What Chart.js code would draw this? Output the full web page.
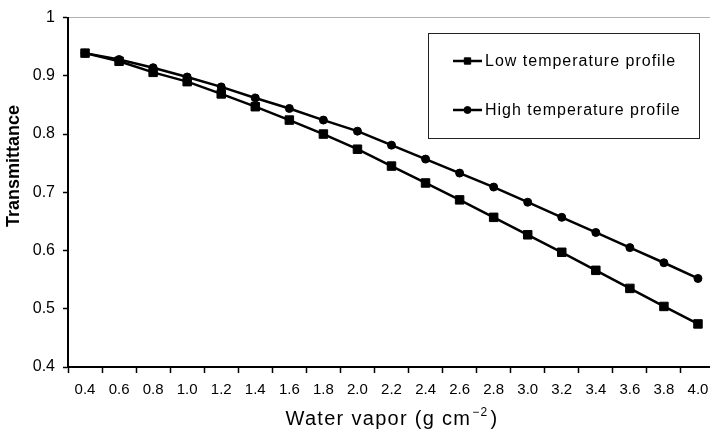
<!DOCTYPE html>
<html>
<head>
<meta charset="utf-8">
<script src="https://cdn.jsdelivr.net/npm/chart.js@4/dist/chart.umd.min.js"></script>
<style>
  html, body { margin: 0; padding: 0; background: #fff; overflow: hidden; }
  canvas { display: block; }
</style>
</head>
<body>
<canvas id="myChart" width="722" height="432"></canvas>
<script>
// water vapor categories (g cm-2), also used as the x tick labels
const vapor = ['0.4', '0.6', '0.8', '1.0', '1.2', '1.4', '1.6', '1.8', '2.0', '2.2',
  '2.4', '2.6', '2.8', '3.0', '3.2', '3.4', '3.6', '3.8', '4.0'];

const lowProfile = [0.939, 0.925, 0.906, 0.890, 0.869, 0.847, 0.824, 0.800, 0.774, 0.745,
  0.716, 0.687, 0.657, 0.627, 0.597, 0.566, 0.535, 0.504, 0.474];

const highProfile = [0.939, 0.928, 0.914, 0.898, 0.881, 0.862, 0.844, 0.824, 0.805, 0.781,
  0.757, 0.733, 0.709, 0.683, 0.657, 0.631, 0.605, 0.579, 0.552];

const yTickValues = [0.4, 0.5, 0.6, 0.7, 0.8, 0.9, 1];

const FONT = 'Arial, "Liberation Sans", Helvetica, sans-serif';

// axis titles, drawn by hand so the superscript can sit properly
const axisTitles = {
  id: 'axisTitles',
  afterDraw(chart) {
    const ctx = chart.ctx;
    const area = chart.chartArea;
    ctx.save();
    ctx.fillStyle = '#000';

    // y title
    ctx.font = 'bold 18px ' + FONT;
    ctx.textAlign = 'center';
    ctx.textBaseline = 'middle';
    ctx.translate(14, 166);
    ctx.rotate(-Math.PI / 2);
    ctx.fillText('Transmittance', 0, 0);
    ctx.setTransform(1, 0, 0, 1, 0, 0);

    // x title with superscript
    ctx.textAlign = 'left';
    ctx.textBaseline = 'alphabetic';
    ctx.letterSpacing = '1.3px';
    const main = 'Water vapor (g cm';
    const sup = '\u22122';
    const tail = ')';
    ctx.font = '20px ' + FONT;
    const wMain = ctx.measureText(main).width;
    const wTail = ctx.measureText(tail).width;
    ctx.font = '12px ' + FONT;
    const wSup = ctx.measureText(sup).width + 2;
    let x = (area.left + area.right) / 2 - (wMain + wSup + wTail) / 2;
    const base = 425;
    ctx.font = '20px ' + FONT;
    ctx.fillText(main, x, base);
    x += wMain + 1;
    ctx.font = '12px ' + FONT;
    ctx.fillText(sup, x, base - 9);
    x += wSup;
    ctx.font = '20px ' + FONT;
    ctx.fillText(tail, x, base);
    ctx.restore();
  }
};

// boxed legend in the upper right of the plot
const boxLegend = {
  id: 'boxLegend',
  afterDraw(chart) {
    const ctx = chart.ctx;
    const box = { left: 428.5, top: 33.5, right: 699.5, bottom: 138.5 };
    const rows = [61, 110];
    ctx.save();
    ctx.fillStyle = '#fff';
    ctx.fillRect(box.left, box.top, box.right - box.left, box.bottom - box.top);
    ctx.strokeStyle = '#222';
    ctx.lineWidth = 1;
    ctx.strokeRect(box.left, box.top, box.right - box.left, box.bottom - box.top);

    chart.data.datasets.forEach((ds, i) => {
      const y = rows[i];
      ctx.strokeStyle = ds.borderColor;
      ctx.lineWidth = 2.5;
      ctx.beginPath();
      ctx.moveTo(453, y);
      ctx.lineTo(482, y);
      ctx.stroke();
      ctx.fillStyle = ds.pointBackgroundColor;
      ctx.strokeStyle = ds.pointBorderColor;
      ctx.lineWidth = 1;
      Chart.helpers.drawPoint(ctx, {
        pointStyle: ds.pointStyle,
        radius: ds.pointStyle === 'rect' ? 4.5 : 3.5,
        borderWidth: 1
      }, 467.5, y);

      ctx.fillStyle = '#000';
      ctx.font = '16px ' + FONT;
      ctx.letterSpacing = '1px';
      ctx.textAlign = 'left';
      ctx.textBaseline = 'middle';
      ctx.fillText(ds.label, 485, y + 1);
    });
    ctx.restore();
  }
};

const config = {
  type: 'line',
  data: {
    labels: vapor,
    datasets: [
      {
        label: 'Low temperature profile',
        data: lowProfile,
        borderColor: '#000',
        borderWidth: 2.5,
        pointStyle: 'rect',
        pointRadius: 6,
        pointBorderWidth: 1,
        pointBackgroundColor: '#000',
        pointBorderColor: '#000',
        tension: 0
      },
      {
        label: 'High temperature profile',
        data: highProfile,
        borderColor: '#000',
        borderWidth: 2.5,
        pointStyle: 'circle',
        pointRadius: 4,
        pointBorderWidth: 1,
        pointBackgroundColor: '#000',
        pointBorderColor: '#000',
        tension: 0
      }
    ]
  },
  options: {
    responsive: false,
    animation: false,
    devicePixelRatio: 1,
    layout: { padding: { top: 15, right: 4, left: 0, bottom: 0 } },
    plugins: {
      legend: { display: false },
      tooltip: { enabled: false }
    },
    scales: {
      x: {
        type: 'category',
        offset: true,
        afterFit(scale) { scale.height = 65; },
        grid: {
          offset: true,
          drawOnChartArea: false,
          tickLength: 6,
          tickColor: '#000',
          tickWidth: 1.5
        },
        border: { color: '#000', width: 2 },
        ticks: {
          autoSkip: false,
          maxRotation: 0,
          padding: 8,
          color: '#000',
          font: { family: FONT, size: 15 }
        }
      },
      y: {
        min: 0.4,
        max: 1,
        afterFit(scale) { scale.width = 68; },
        afterBuildTicks(scale) {
          scale.ticks = yTickValues.map(v => ({ value: v }));
        },
        grid: {
          drawOnChartArea: true,
          color: c => (c.tick && c.tick.value === 1 ? '#b0b0b0' : 'rgba(0,0,0,0)'),
          tickColor: '#000',
          tickLength: 5,
          tickWidth: 1.5
        },
        border: { color: '#000', width: 2 },
        ticks: {
          padding: 8,
          color: '#000',
          font: { family: FONT, size: 16 },
          callback: v => String(+v.toFixed(1))
        }
      }
    }
  },
  plugins: [axisTitles, boxLegend]
};

const myChart = new Chart(document.getElementById('myChart'), config);
</script>
</body>
</html>
